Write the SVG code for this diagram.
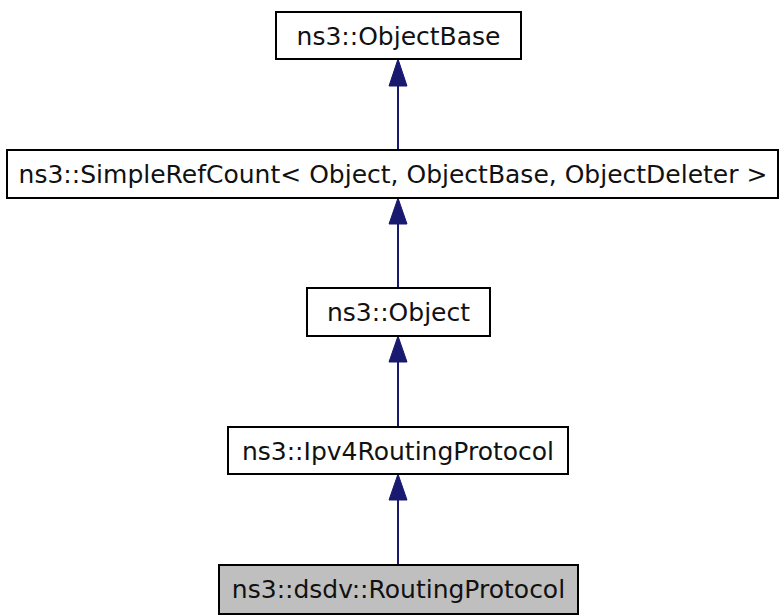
<svg xmlns="http://www.w3.org/2000/svg" width="784" height="616" viewBox="0 0 784 616">
<defs>
<style>
.box{fill:#ffffff;stroke:#000000;stroke-width:2}
.cur{fill:#bfbfbf;stroke:#000000;stroke-width:2}
.lbl{font-family:"DejaVu Sans",sans-serif;font-size:25px;fill:#111111;text-anchor:middle;dominant-baseline:central}
.edge{stroke:#191970;stroke-width:2;fill:none}
.head{fill:#191970;stroke:#191970;stroke-width:1}
</style>
</defs>
<rect width="784" height="616" fill="#ffffff"/>
<g id="connectors">
<line class="edge" x1="398" y1="150" x2="398" y2="84"/>
<polygon class="head" points="398,59 389,86 407,86"/>
<line class="edge" x1="398" y1="288" x2="398" y2="222"/>
<polygon class="head" points="398,198 389,224 407,224"/>
<line class="edge" x1="398" y1="427" x2="398" y2="360"/>
<polygon class="head" points="398,336 389,362 407,362"/>
<line class="edge" x1="398" y1="565" x2="398" y2="498"/>
<polygon class="head" points="398,474 389,500 407,500"/>
</g>
<g id="node-objectbase">
<rect class="box" x="276" y="12" width="245" height="47"/>
<text class="lbl" x="398.5" y="36">ns3::ObjectBase</text>
</g>
<g id="node-simplerefcount">
<rect class="box" x="7" y="150" width="771" height="48"/>
<text class="lbl" x="393" y="174">ns3::SimpleRefCount&lt; Object, ObjectBase, ObjectDeleter &gt;</text>
</g>
<g id="node-object">
<rect class="box" x="307" y="288" width="183" height="48"/>
<text class="lbl" x="398.5" y="312">ns3::Object</text>
</g>
<g id="node-ipv4routingprotocol">
<rect class="box" x="228" y="427" width="340" height="47"/>
<text class="lbl" x="398" y="451">ns3::Ipv4RoutingProtocol</text>
</g>
<g id="node-dsdv-routingprotocol">
<rect class="cur" x="219" y="565" width="359" height="49"/>
<text class="lbl" x="398.5" y="589.5">ns3::dsdv::RoutingProtocol</text>
</g>
</svg>
